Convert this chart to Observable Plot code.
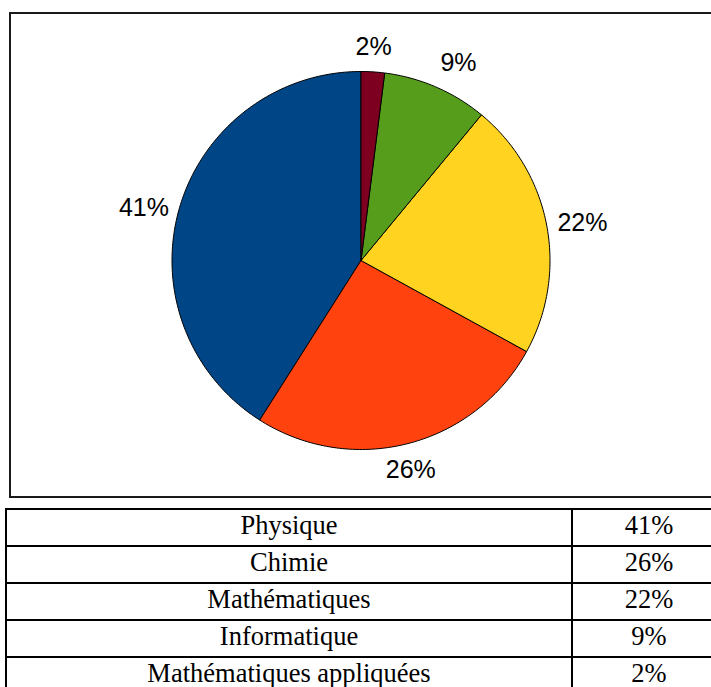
<!DOCTYPE html>
<html>
<head>
<meta charset="utf-8">
<script src="https://cdn.jsdelivr.net/npm/d3@7"></script>
<script src="https://cdn.jsdelivr.net/npm/@observablehq/plot@0.6"></script>
<style>
  html, body { margin: 0; padding: 0; background: #fff; width: 711px; height: 687px; overflow: hidden; }
  #wrap { position: relative; width: 711px; height: 687px; overflow: hidden; }
  #box { position: absolute; left: 9px; top: 12px; width: 760px; height: 486px; border: 2px solid #1a1a1a; box-sizing: border-box; }
  #chart { position: absolute; left: 0; top: 0; }
  #tbl { position: absolute; left: 5px; top: 508px; border-collapse: collapse; table-layout: fixed; width: 720px; font-family: "Liberation Serif", "Times New Roman", serif; font-size: 26.5px; color: #000; }
  #tbl td { border: 2px solid #000; padding: 0 0 4px 0; height: 31px; line-height: 31px; text-align: center; white-space: nowrap; }
</style>
</head>
<body>
<div id="wrap">
  <div id="box"></div>
  <div id="chart"></div>
  <table id="tbl"><colgroup><col style="width:566px"><col style="width:154px"></colgroup></table>
</div>
<script>
const categories = ["Physique", "Chimie", "Mathématiques", "Informatique", "Mathématiques appliquées"];
const values = [41, 26, 22, 9, 2];
const labels = ["41%", "26%", "22%", "9%", "2%"];
const palette = ["#004586", "#ff420e", "#ffd320", "#579d1c", "#7e0021"];

const total = d3.sum(values);
// slices go counter-clockwise from 12 o'clock
let acc = 0;
const slices = categories.map((c, i) => {
  const a0 = acc / total * 2 * Math.PI;
  acc += values[i];
  const a1 = acc / total * 2 * Math.PI;
  return {cat: c, a0, a1, label: labels[i]};
});
const pt = (a, r) => ({x: -Math.sin(a) * r, y: Math.cos(a) * r});

const polys = [];
for (const s of slices) {
  const n = Math.max(2, Math.ceil((s.a1 - s.a0) / (Math.PI / 180)));
  polys.push({cat: s.cat, ...pt(0, 0)});
  for (let k = 0; k <= n; k++) {
    const a = s.a0 + (s.a1 - s.a0) * k / n;
    polys.push({cat: s.cat, ...pt(a, 1)});
  }
  polys.push({cat: s.cat, ...pt(0, 0)});
}

const labelRadius = 200 / 189;
const textMarks = slices.map(s => {
  const am = (s.a0 + s.a1) / 2;
  const p = pt(am, labelRadius);
  const dx = -Math.sin(am), dy = Math.cos(am);
  const textAnchor = dx > 0.3 ? "start" : dx < -0.3 ? "end" : "middle";
  const lineAnchor = dy > 0.3 ? "bottom" : dy < -0.3 ? "top" : "middle";
  const off = lineAnchor === "bottom" ? -6 : lineAnchor === "top" ? 6 : (dx < 0 ? 3 : 0);
  return Plot.text([{...p, label: s.label}], {
    x: "x", y: "y", text: "label", textAnchor, lineAnchor, dy: off,
    fontSize: 25, fontFamily: "Liberation Sans, Arial, sans-serif", fill: "#000"
  });
});

const chart = Plot.plot({
  width: 711,
  height: 500,
  marginLeft: 171.5,
  marginRight: 161.5,
  marginTop: 71,
  marginBottom: 51,
  x: {domain: [-1, 1], axis: null},
  y: {domain: [-1, 1], axis: null},
  color: {domain: categories, range: palette},
  style: {background: "transparent", overflow: "visible"},
  marks: [
    Plot.line(polys, {x: "x", y: "y", z: "cat", fill: "cat", stroke: "#000", strokeWidth: 1, strokeLinejoin: "round"}),
    ...textMarks
  ]
});
document.getElementById("chart").appendChild(chart);

const tbl = document.getElementById("tbl");
categories.forEach((c, i) => {
  const tr = document.createElement("tr");
  const td1 = document.createElement("td");
  td1.textContent = c;
  const td2 = document.createElement("td");
  td2.textContent = labels[i];
  tr.appendChild(td1);
  tr.appendChild(td2);
  tbl.appendChild(tr);
});
</script>
</body>
</html>
